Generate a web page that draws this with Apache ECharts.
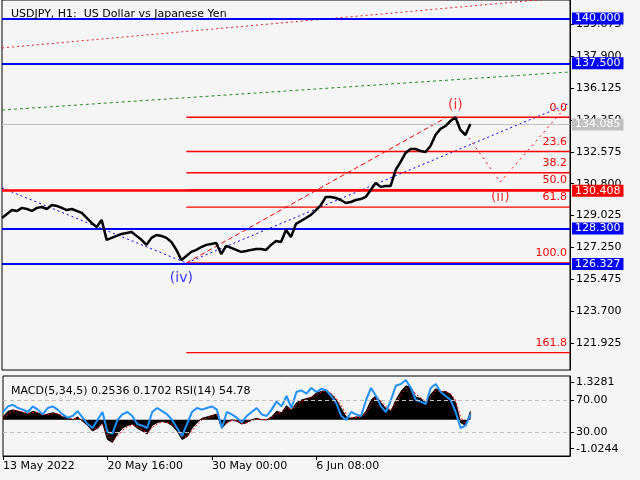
<!DOCTYPE html>
<html><head><meta charset="utf-8">
<script src="https://cdn.jsdelivr.net/npm/echarts@6/dist/echarts.min.js"></script>
<style>html,body{margin:0;padding:0;background:#f5f5f5}#c{width:640px;height:480px}</style>
</head><body><div id="c"></div>
<script>
const N = 115;
const xLabels = {0:'13 May 2022', 21:'20 May 16:00', 42:'30 May 00:00', 63:'6 Jun 08:00'};
const price = [128.89,129.11,129.33,129.28,129.45,129.39,129.28,129.45,129.50,129.39,
129.61,129.56,129.45,129.33,129.39,129.28,129.17,128.89,128.61,128.39,
128.78,127.67,127.78,127.89,128.00,128.05,128.11,127.89,127.67,127.39,
127.78,127.94,127.89,127.78,127.55,127.11,126.55,126.77,127.00,127.11,
127.27,127.39,127.44,127.50,126.88,127.33,127.22,127.11,127.00,127.05,
127.11,127.16,127.16,127.11,127.39,127.61,127.55,128.22,127.83,128.56,
128.72,128.89,129.06,129.33,129.61,130.06,130.06,130.00,129.89,129.72,
129.78,129.89,129.94,130.06,130.45,130.84,130.62,130.67,130.67,131.56,
132.01,132.51,132.73,132.73,132.62,132.56,132.90,133.51,133.85,134.01,
134.29,134.50,133.79,133.51,134.12];
const macd = [0.1,0.3,0.35,0.3,0.25,0.2,0.3,0.25,0.15,0.2,
0.25,0.2,0.1,0.05,0.0,0.1,-0.05,-0.2,-0.4,-0.3,
-0.1,-0.7,-0.8,-0.5,-0.3,-0.2,-0.15,-0.3,-0.4,-0.5,
-0.2,-0.1,-0.05,-0.1,-0.2,-0.4,-0.7,-0.6,-0.3,-0.1,
0.05,0.1,0.15,0.2,-0.3,-0.1,0.0,-0.05,-0.15,-0.1,
0.0,0.05,0.0,0.0,0.1,0.3,0.25,0.5,0.35,0.6,
0.7,0.75,0.8,0.95,1.0,1.05,0.9,0.7,0.4,0.1,
0.05,0.1,0.1,0.3,0.7,0.85,0.6,0.4,0.3,0.7,
1.0,1.2,1.15,0.8,0.75,0.6,0.9,1.1,1.0,1.0,
0.9,0.6,-0.1,-0.2,0.3];
const signal = [0.05,0.2,0.3,0.32,0.28,0.22,0.26,0.26,0.18,0.18,
0.22,0.22,0.14,0.08,0.02,0.06,0.0,-0.14,-0.32,-0.32,
-0.16,-0.55,-0.75,-0.58,-0.38,-0.25,-0.18,-0.25,-0.36,-0.46,
-0.28,-0.15,-0.08,-0.09,-0.16,-0.33,-0.6,-0.62,-0.4,-0.17,
0.0,0.07,0.12,0.17,-0.15,-0.12,-0.03,-0.04,-0.12,-0.11,
-0.03,0.03,0.01,0.0,0.07,0.23,0.25,0.42,0.38,0.52,
0.65,0.72,0.78,0.9,0.97,1.03,0.94,0.76,0.5,0.2,
0.08,0.09,0.1,0.24,0.58,0.78,0.66,0.47,0.34,0.6,
0.9,1.12,1.14,0.9,0.78,0.65,0.82,1.03,1.0,1.0,
0.92,0.7,0.1,-0.15,0.18];
const rsi = [55,62,64,60,58,55,62,58,52,60,
62,58,52,48,50,56,48,40,35,45,
55,30,28,45,52,55,50,40,38,35,
55,60,56,52,45,35,25,40,55,60,
58,60,62,58,35,55,52,48,42,50,
55,60,52,50,58,68,62,75,60,80,
82,78,85,80,84,82,75,66,50,45,
55,52,50,70,85,75,62,55,70,88,
90,95,85,70,68,65,85,90,80,75,
70,55,35,38,52];
const priceTicks = [139.675,137.9,136.125,134.35,132.575,130.8,129.025,127.25,125.475,123.7,121.925];
const blueLevels = [140.000,137.500,128.300,126.327];
const redLevel = 130.408;
const currentPrice = 134.085;
const fibNames = ['0.0','23.6','38.2','50.0','61.8','100.0','161.8'];
const fibValues = [134.50,132.59,131.41,130.45,129.49,126.38,121.39];
const fibStart = 37, lastIdx = 114;
const channelLine = [[37,126.38],[89,134.46]];
const blueTrend = [[0,130.56],[37,126.38],[114,135.29]];
const redTopTrend = [[0,138.36],[114,141.19]];
const greenTrend = [[0,134.90],[114,137.02]];
const projection = [[92.6,133.62],[100,130.89],[113,135.02]];
const waves = [{t:'(i)',p:[90.6,135.18],c:'#ff0000'},{t:'(ii)',p:[100.2,130.06],c:'#ff0000'},{t:'(iv)',p:[36,125.55],c:'#0000ff'}];

const cats = Array.from({length:N},(_,i)=>String(i));
const F = 'DejaVu Sans';
const chart = echarts.init(document.getElementById('c'));
const boxLabel = (bg)=>({show:true,position:'end',distance:2,formatter:p=>p.name,color:'#fff',backgroundColor:bg,padding:[1,3,0,3],fontSize:11,fontFamily:F});
const trend = (data,color,type)=>({type:'line',xAxisIndex:0,yAxisIndex:0,data,symbol:'none',silent:true,lineStyle:{color,width:1,type},z:3});
const fibSeries = fibValues.map((v,i)=>({type:'line',xAxisIndex:0,yAxisIndex:0,silent:true,z:4,color:'#ff0000',
  symbol:'none',lineStyle:{color:'#ff0000',width:1.4},
  data:[[fibStart,v],{value:[lastIdx,v],symbol:'circle',symbolSize:0.1,
    label:{show:true,position:'top',align:'right',offset:[-3,1],formatter:fibNames[i],color:'#ff0000',fontSize:11,fontFamily:F}}]}));
chart.setOption({
  animation:false,
  backgroundColor:'#f5f5f5',
  title:[{text:'USDJPY, H1:  US Dollar vs Japanese Yen',left:6,top:4,textStyle:{fontSize:11,fontWeight:'normal',fontFamily:F,color:'#000'}},
         {text:'MACD(5,34,5) 0.2536 0.1702 RSI(14) 54.78',left:6,top:381,textStyle:{fontSize:11,fontWeight:'normal',fontFamily:F,color:'#000'}}],
  grid:[{left:2,right:70,top:0,height:370,show:true,borderColor:'#000',borderWidth:1},
        {left:2,right:70,top:376,height:80,show:true,borderColor:'#000',borderWidth:1}],
  xAxis:[{type:'category',gridIndex:0,data:cats,boundaryGap:false,show:false},
         {type:'category',gridIndex:1,data:cats,boundaryGap:false,axisLine:{lineStyle:{color:'#000'}},
          axisTick:{interval:(i)=>xLabels[i]!==undefined,length:4,lineStyle:{color:'#000'}},
          axisLabel:{interval:(i)=>xLabels[i]!==undefined,formatter:(v,i)=>xLabels[i]||'',align:'left',color:'#000',fontSize:11,fontFamily:F,margin:5}}],
  yAxis:[{type:'value',gridIndex:0,position:'right',min:120.42,max:141.03,splitLine:{show:false},
          axisLine:{show:true,lineStyle:{color:'#000'}},axisTick:{show:true,length:4,customValues:priceTicks,lineStyle:{color:'#000'}},
          axisLabel:{customValues:priceTicks,formatter:v=>v.toFixed(3),color:'#000',fontSize:11,fontFamily:F,margin:6}},
         {type:'value',gridIndex:1,position:'right',min:0,max:100,splitLine:{show:false},
          axisLine:{show:true,lineStyle:{color:'#000'}},axisTick:{show:true,length:4,customValues:[70,30],lineStyle:{color:'#000'}},
          axisLabel:{customValues:[70,30],formatter:v=>v.toFixed(2),color:'#000',fontSize:11,fontFamily:F,margin:6}},
         {type:'value',gridIndex:1,position:'right',min:-1.282,max:1.549,splitLine:{show:false},
          axisLine:{show:false},axisTick:{show:true,length:4,customValues:[1.3281,-1.0244],lineStyle:{color:'#000'}},
          axisLabel:{customValues:[1.3281,-1.0244],formatter:v=>v.toFixed(4),color:'#000',fontSize:11,fontFamily:F,margin:6}}],
  series:[
    trend(redTopTrend,'#dd2222',[2,3]),
    trend(greenTrend,'#228822',[3,3]),
    trend(blueTrend,'#0000ff',[2,3]),
    trend(channelLine,'#ff0000',[5,3]),
    trend(projection,'#ff0000',[2,4]),
    ...fibSeries,
    {type:'line',xAxisIndex:0,yAxisIndex:0,data:price,symbol:'none',lineStyle:{color:'#000',width:2.5},z:5,
     markLine:{symbol:'none',silent:true,animation:false,data:[
       ...blueLevels.map(v=>({yAxis:v,name:v.toFixed(3),lineStyle:{color:'#0000ff',width:2,type:'solid'},label:boxLabel('#0000ff')})),
       {yAxis:redLevel,name:redLevel.toFixed(3),lineStyle:{color:'#ff0000',width:2.5,type:'solid'},label:boxLabel('#ff0000')},
       {yAxis:currentPrice,name:currentPrice.toFixed(3),lineStyle:{color:'#c0c0c0',width:1,type:'solid'},label:boxLabel('#c0c0c0')}
     ]}},
    {type:'scatter',xAxisIndex:0,yAxisIndex:0,symbolSize:0,z:6,data:waves.map(w=>({value:w.p,label:{show:true,formatter:w.t,color:w.c,fontSize:14,fontFamily:F,position:'inside'}}))},
    {type:'line',xAxisIndex:1,yAxisIndex:2,data:macd,symbol:'none',lineStyle:{color:'#000',width:1},areaStyle:{color:'#000',origin:0,opacity:1}},
    {type:'line',xAxisIndex:1,yAxisIndex:2,data:signal,symbol:'none',lineStyle:{color:'#ff0000',width:1,type:[2,2]}},
    {type:'line',xAxisIndex:1,yAxisIndex:1,data:rsi,symbol:'none',lineStyle:{color:'#1e90ff',width:2},
     markLine:{symbol:'none',silent:true,label:{show:false},lineStyle:{color:'#c0c0c0',type:[4,3],width:1},data:[{yAxis:70},{yAxis:30}]}}
  ]
});
</script></body></html>
